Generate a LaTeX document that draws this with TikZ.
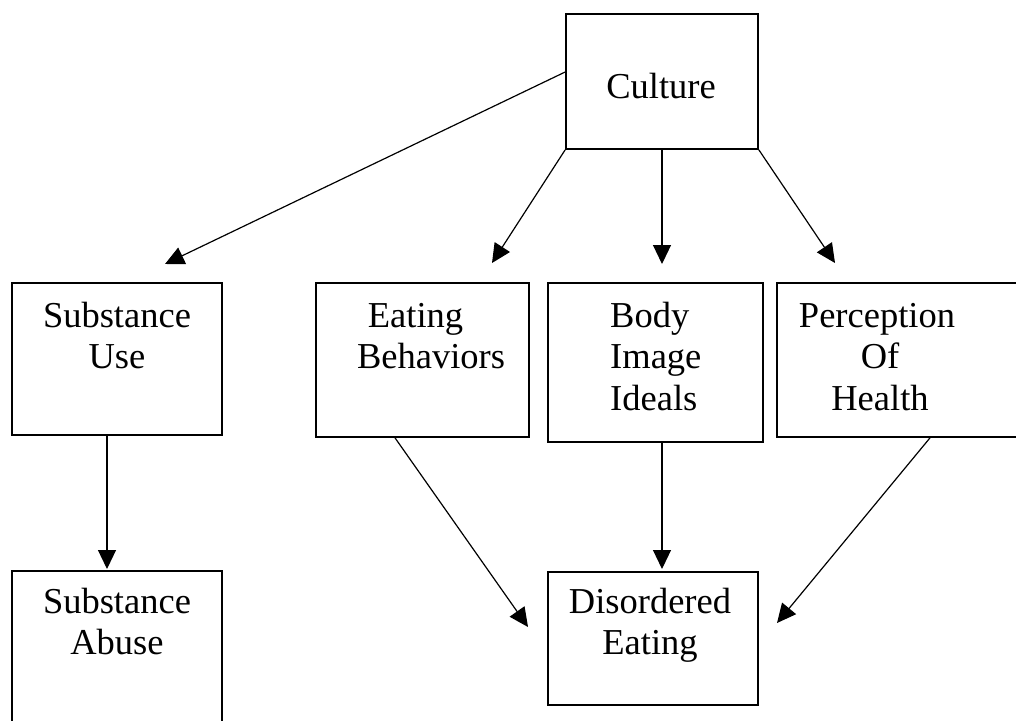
\documentclass[tikz,border=0pt]{standalone}
\usepackage{fontspec}
\setmainfont{Liberation Serif}
\usetikzlibrary{arrows.meta}
\tikzset{
  box/.style={draw=black, line width=1.7pt, rectangle, inner sep=0pt},
  lbl/.style={anchor=base, align=center, inner sep=0pt, text=black,
              font=\fontsize{36.5}{41.5}\selectfont},
  lbll/.style={anchor=base west, align=left, inner sep=0pt, text=black,
              font=\fontsize{36.5}{41.5}\selectfont},
  arr/.style={draw=black, line width=1.2pt, -{Triangle[length=19pt,width=18pt]}}
}
\begin{document}
\begin{tikzpicture}[x=1pt,y=-1pt]
\clip (0,0) rectangle (1016,720);
\fill[white] (0,0) rectangle (1016,720);
% boxes
\node[box, minimum width=192pt, minimum height=135pt] (cul) at (662,81.5) {};
\node[box, minimum width=210pt, minimum height=152pt] (su) at (117,359) {};
\node[box, minimum width=213pt, minimum height=154pt] (eb) at (422.5,360) {};
\node[box, minimum width=215pt, minimum height=159pt] (bi) at (655.5,362.5) {};
\node[box, minimum width=253pt, minimum height=154pt] (ph) at (903.5,360) {};
\node[box, minimum width=210pt, minimum height=169pt] (sa) at (117,655.5) {};
\node[box, minimum width=210pt, minimum height=133pt] (de) at (653,638.5) {};
% texts (anchor = baseline of the last line)
\node[lbl] (tcul) at (661,98) {Culture};
\node[lbl] (tsu) at (117,368.5) {Substance\\Use};
\node[lbl] (teb) at (431,368.5) {Eating\hbox to 31pt{}\\Behaviors};
\node[lbll] (tbi) at (610,410) {Body\\Image\\Ideals};
\node[lbl] (tph) at (880,410) {Perception\hbox to 6pt{}\\Of\\Health};
\node[lbl] (tsa) at (117,654.5) {Substance\\Abuse};
\node[lbl] (tde) at (650,654.5) {Disordered\\Eating};
% arrow tips
\coordinate (psu) at (165,264);
\coordinate (peb) at (492,263);
\coordinate (pbi) at (662,264);
\coordinate (pph) at (835,263);
\coordinate (psa) at (107,569);
\coordinate (pdel) at (528,627);
\coordinate (pdet) at (662,569);
\coordinate (pder) at (777,623);
% connectors
\draw[arr] ([yshift=9.5pt]cul.west) -- (psu);
\draw[arr] (cul.south west) -- (peb);
\draw[arr] (cul.south) -- (pbi);
\draw[arr] (cul.south east) -- (pph);
\draw[arr] ([xshift=-10pt]su.south) -- (psa);
\draw[arr] ([xshift=-27.5pt]eb.south) -- (pdel);
\draw[arr] ([xshift=6.5pt]bi.south) -- (pdet);
\draw[arr] ([xshift=26.5pt]ph.south) -- (pder);
\end{tikzpicture}
\end{document}
